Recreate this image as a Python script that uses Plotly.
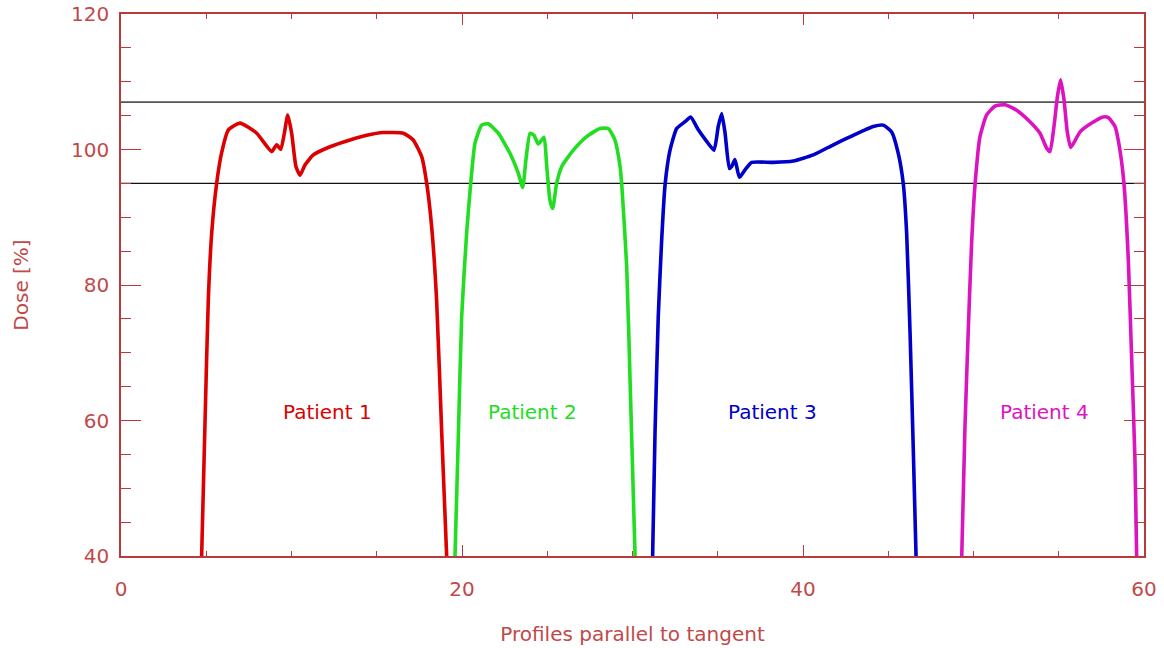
import plotly.graph_objects as go

# ---- data ----
p1_x = [4.73, 4.93, 5.12, 5.32, 5.61, 5.90, 6.30, 6.98, 7.96, 8.84, 9.13, 9.37, 9.58, 9.78, 10.01,
        10.26, 10.50, 10.79, 11.28, 12.26, 13.43, 14.41, 15.38, 16.56, 17.14, 17.64, 17.93, 18.22,
        18.51, 18.81, 19.10]
p1_y = [40.0, 60.0, 77.8, 87.7, 95.0, 99.5, 102.9, 103.9, 102.4, 99.7, 100.7, 100.0, 102.4, 105.1, 102.4,
        97.5, 96.2, 97.7, 99.2, 100.4, 101.4, 102.1, 102.5, 102.4, 101.4, 98.9, 95.0, 88.6,
        77.8, 58.2, 40.0]

p2_x = [19.59, 19.79, 19.98, 20.27, 20.51, 20.76, 21.15, 21.54, 22.13, 22.82, 23.30, 23.56, 23.75,
        23.99, 24.22, 24.48, 24.81, 24.97, 25.16, 25.32, 25.55, 25.85, 26.53, 27.31, 28.09, 28.58,
        28.97, 29.27, 29.37, 29.66, 29.89, 30.15]
p2_y = [40.0, 58.1, 75.3, 87.6, 95.0, 100.9, 103.6, 103.8, 102.4, 99.4, 96.5, 94.4, 98.5,
        102.4, 102.1, 100.8, 101.8, 97.5, 92.5, 91.3, 95.0, 97.5, 99.9, 101.9, 103.1, 103.1,
        101.4, 97.5, 94.8, 82.7, 63.0, 40.0]

p3_x = [31.18, 31.32, 31.51, 31.71, 31.91, 32.20, 32.59, 33.08, 33.41, 33.86, 34.35, 34.78, 35.03,
        35.23, 35.43, 35.68, 35.82, 36.01, 36.27, 36.60, 36.99, 38.26, 39.43, 40.60, 41.78, 42.95,
        44.12, 44.71, 45.20, 45.59, 45.88, 46.08, 46.28, 46.47, 46.63]
p3_y = [40.0, 58.1, 75.3, 86.6, 94.8, 99.9, 103.1, 104.1, 104.8, 102.9, 101.2, 99.9, 103.4,
        105.3, 102.4, 97.2, 97.5, 98.5, 95.9, 97.0, 98.1, 98.1, 98.3, 99.2, 100.7, 102.1,
        103.4, 103.6, 102.6, 99.4, 95.0, 87.6, 72.9, 55.6, 40.0]

p4_x = [49.31, 49.50, 49.70, 49.89, 50.09, 50.38, 50.77, 51.26, 51.85, 52.53, 53.31, 53.90, 54.29,
        54.49, 54.72, 54.92, 55.11, 55.31, 55.50, 55.70, 56.25, 56.93, 57.61, 57.91, 58.30, 58.59,
        58.83, 59.08, 59.28, 59.47, 59.57]
p4_y = [40.0, 59.1, 73.8, 86.2, 94.8, 101.9, 105.1, 106.4, 106.6, 105.8, 104.1, 102.4, 100.2,
        99.7, 103.4, 107.8, 110.3, 107.3, 102.6, 100.3, 102.6, 103.9, 104.8, 104.7, 103.4, 99.9,
        94.8, 83.7, 68.9, 54.2, 40.0]

patient_names = ["Patient 1", "Patient 2", "Patient 3", "Patient 4"]
label_x = [12.13, 24.16, 38.21, 54.19]
label_y = [61.3, 61.3, 61.3, 61.3]
ref_levels = [95, 107]
x_limits = [0, 60]
y_limits = [40, 120]
x_ticks = [0, 20, 40, 60]
y_ticks = [40, 60, 80, 100, 120]

colors = ["#dc0000", "#22dd22", "#0000c8", "#dc14c0"]
axis_color = "#b83a3a"
text_color = "#bf4a4a"
font_family = "DejaVu Sans"

fig = go.Figure()

for lvl, w, c in zip(ref_levels, [1.2, 1.8], ["#111111", "#555555"]):
    fig.add_trace(go.Scatter(x=x_limits, y=[lvl, lvl], mode="lines",
                             line=dict(color=c, width=w), showlegend=False, hoverinfo="skip"))

for xs, ys, c in zip([p1_x, p2_x, p3_x, p4_x], [p1_y, p2_y, p3_y, p4_y], colors):
    fig.add_trace(go.Scatter(x=xs, y=ys, mode="lines",
                             line=dict(color=c, width=3.6, shape="spline", smoothing=0.5),
                             showlegend=False))

for name, lx, ly, c in zip(patient_names, label_x, label_y, colors):
    fig.add_annotation(x=lx, y=ly, text=name, showarrow=False,
                       font=dict(family=font_family, size=20, color=c))

fig.update_layout(
    width=1164, height=648,
    margin=dict(l=121, r=20, t=14, b=92, autoexpand=False),
    paper_bgcolor="white", plot_bgcolor="white",
    font=dict(family=font_family, size=20, color=text_color),
    showlegend=False,
)

fig.update_xaxes(
    range=x_limits, tickvals=x_ticks, showgrid=False, zeroline=False, automargin=False,
    showline=True, linecolor=axis_color, linewidth=1.5, mirror="ticks",
    ticks="inside", ticklen=11, tickwidth=1.2, tickcolor=axis_color,
    minor=dict(dtick=5, ticks="inside", ticklen=5, tickwidth=1.2, tickcolor=axis_color, showgrid=False),
    tickfont=dict(family=font_family, size=20, color=text_color),
    ticklabelstandoff=14,
    title=dict(text="Profiles parallel to tangent", standoff=27,
               font=dict(family=font_family, size=20, color=text_color)),
)
fig.update_yaxes(
    range=y_limits, tickvals=y_ticks, showgrid=False, zeroline=False, automargin=False,
    showline=True, linecolor=axis_color, linewidth=1.5, mirror="ticks",
    ticks="inside", ticklen=20, tickwidth=1.2, tickcolor=axis_color,
    minor=dict(dtick=5, ticks="inside", ticklen=10, tickwidth=1.2, tickcolor=axis_color, showgrid=False),
    tickfont=dict(family=font_family, size=20, color=text_color),
    ticklabelstandoff=6,
    title=dict(text="Dose [%]", standoff=37,
               font=dict(family=font_family, size=20, color=text_color)),
)

fig.write_html("out.html")
